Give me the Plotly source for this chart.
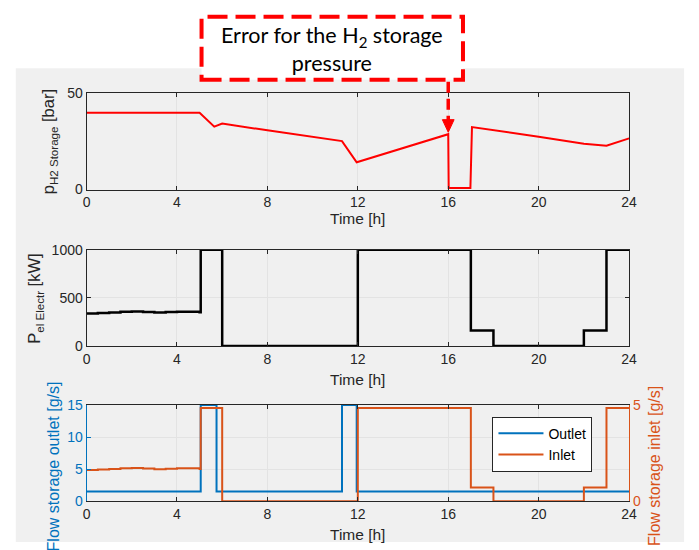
import plotly.graph_objects as go

# ---------------- data ----------------
t_pressure = [0, 5.0, 5.65, 6.0, 8.0, 11.3, 11.95, 16.0, 16.02, 16.98, 17.05, 18.0, 20.0, 22.0, 23.0, 24.0]
p_storage = [40, 40, 32.7, 34.3, 30.8, 25.2, 14.2, 28.8, 0.8, 0.8, 32.5, 31.0, 27.5, 23.8, 22.8, 26.6]

t_pel = [0, 0.5, 1.0, 1.5, 2.0, 2.5, 3.0, 3.5, 4.0, 4.5, 5.0, 5.05, 6.0, 12.0, 17.0, 18.0, 22.0, 23.0, 24.0]
p_el = [338, 342, 348, 355, 358, 352, 347, 352, 356, 355, 350, 1000, 0, 1000, 160, 0, 160, 1000, 1000]

t_outlet = [0, 5.05, 5.75, 11.3, 11.95, 24.0]
flow_outlet = [1.5, 15, 1.5, 15, 1.5, 1.5]

t_inlet = [0, 0.5, 1.0, 1.5, 2.0, 2.5, 3.0, 3.5, 4.0, 4.5, 5.0, 5.05, 6.0, 12.0, 17.0, 18.0, 22.0, 23.0, 24.0]
flow_inlet = [1.63, 1.65, 1.68, 1.71, 1.73, 1.70, 1.66, 1.69, 1.72, 1.71, 1.68, 4.85, 0, 4.85, 0.72, 0, 0.72, 4.85, 4.85]

x_ticks = [0, 4, 8, 12, 16, 20, 24]

# ---------------- style ----------------
W, H = 699, 550
BLUE = "#0072BD"
ORANGE = "#D95319"
AX = "#262626"
GRID = "#e3e3e3"
FONT = "Liberation Sans, Arial, sans-serif"

def px(x):
    return x / W

def py(y):
    return 1 - y / H

fig = go.Figure()

fig.add_trace(go.Scatter(x=t_pressure, y=p_storage, mode="lines", line=dict(color="#ff0000", width=2),
                         xaxis="x", yaxis="y", showlegend=False))
fig.add_trace(go.Scatter(x=t_pel, y=p_el, mode="lines", line=dict(color="#000000", width=2.5, shape="hv"),
                         xaxis="x2", yaxis="y2", showlegend=False))
fig.add_trace(go.Scatter(x=t_outlet, y=flow_outlet, mode="lines", name="Outlet",
                         line=dict(color=BLUE, width=2, shape="hv"), xaxis="x3", yaxis="y3"))
fig.add_trace(go.Scatter(x=t_inlet, y=flow_inlet, mode="lines", name="Inlet",
                         line=dict(color=ORANGE, width=2, shape="hv"), xaxis="x3", yaxis="y4"))

xdom = [px(84), px(636)]

def xax(anchor):
    return dict(domain=xdom, anchor=anchor, range=[0, 24], tickvals=x_ticks, showgrid=True,
                gridcolor=GRID, gridwidth=1, zeroline=False, showline=True, linecolor=AX, linewidth=1,
                mirror="ticks", ticks="inside", ticklen=4, tickcolor=AX,
                tickfont=dict(family=FONT, size=14, color=AX))

def yax(anchor, dom, rng, vals, color=AX, lcolor=AX, grid=True):
    return dict(domain=dom, anchor=anchor, range=rng, tickvals=vals, showgrid=grid, gridcolor=GRID,
                zeroline=False, showline=True, linecolor=lcolor, linewidth=1, mirror=False,
                ticks="inside", ticklen=4, tickcolor=lcolor,
                tickfont=dict(family=FONT, size=14, color=color))

y1d = [py(187), py(88)]
y2d = [py(348), py(249)]
y3d = [py(508), py(409)]

fig.update_layout(
    width=W, height=H, margin=dict(l=0, r=0, t=0, b=0),
    paper_bgcolor="white", plot_bgcolor="white",
    xaxis=xax("y"), xaxis2=xax("y2"), xaxis3=xax("y3"),
    yaxis=dict(yax("x", y1d, [0, 50], [0, 50]), mirror="ticks"),
    yaxis2=dict(yax("x2", y2d, [0, 1000], [0, 500, 1000]), mirror="ticks"),
    yaxis3=yax("x3", y3d, [0, 15], [0, 5, 10, 15], color=BLUE, lcolor=BLUE),
    yaxis4=dict(domain=y3d, anchor="x3", overlaying="y3", side="right", range=[0, 5], tickvals=[0, 5],
                showgrid=False, zeroline=False, showline=True, linecolor=ORANGE, linewidth=1,
                ticks="inside", ticklen=4, tickcolor=ORANGE,
                tickfont=dict(family=FONT, size=14, color=ORANGE)),
    legend=dict(x=px(497), y=py(421), xanchor="left", yanchor="top", bgcolor="white",
                bordercolor=AX, borderwidth=1, font=dict(family=FONT, size=14, color="#000000"),
                tracegroupgap=0, itemwidth=45),
)

shapes = []
# gray figure panel
shapes.append(dict(type="rect", xref="paper", yref="paper", x0=px(12), x1=px(692), y0=0, y1=py(62),
                   fillcolor="#f0f0f0", line=dict(width=0), layer="below"))
# dashed annotation box
shapes.append(dict(type="rect", xref="paper", yref="paper", x0=px(201), x1=px(467), y0=py(74), y1=py(9),
                   fillcolor="white", line=dict(color="#ff0000", width=4, dash="20px,8px"), layer="above"))
# dashed arrow shaft
shapes.append(dict(type="line", xref="x", yref="paper", x0=16, x1=16, y0=py(76), y1=py(116),
                   line=dict(color="#ff0000", width=3.5, dash="11px,6px")))
# arrow head
shapes.append(dict(type="path", xref="x", yref="paper",
                   path=f"M 15.74,{py(115)} L 16.26,{py(115)} L 16,{py(128)} Z",
                   fillcolor="#ff0000", line=dict(color="#ff0000", width=1)))
fig.update_layout(shapes=shapes)

ann = []
ann.append(dict(text="Error for the H<sub>2</sub> storage<br>pressure", xref="paper", yref="paper",
                x=px(334), y=py(42), xanchor="center", yanchor="middle", showarrow=False,
                font=dict(family="Lato, Carlito, sans-serif", size=21.5, color="#000000")))
for yc in [217, 383, 542]:
    ann.append(dict(text="Time [h]", xref="paper", yref="paper", x=px(360), y=py(yc), xanchor="center",
                    yanchor="middle", showarrow=False, font=dict(family=FONT, size=15.5, color=AX)))
ann.append(dict(text="p<sub>H2 Storage</sub> [bar]", xref="paper", yref="paper", x=px(46), y=py(138),
                xanchor="center", yanchor="middle", textangle=-90, showarrow=False,
                font=dict(family=FONT, size=16.5, color=AX)))
ann.append(dict(text="P<sub>el Electr</sub> [kW]", xref="paper", yref="paper", x=px(32), y=py(299),
                xanchor="center", yanchor="middle", textangle=-90, showarrow=False,
                font=dict(family=FONT, size=16.5, color=AX)))
ann.append(dict(text="Flow storage outlet [g/s]", xref="paper", yref="paper", x=px(50), y=py(472),
                xanchor="center", yanchor="middle", textangle=-90, showarrow=False,
                font=dict(family=FONT, size=16, color=BLUE)))
ann.append(dict(text="Flow storage inlet [g/s]", xref="paper", yref="paper", x=px(662), y=py(472),
                xanchor="center", yanchor="middle", textangle=-90, showarrow=False,
                font=dict(family=FONT, size=16, color=ORANGE)))
fig.update_layout(annotations=ann)

fig.write_html("out.html")
